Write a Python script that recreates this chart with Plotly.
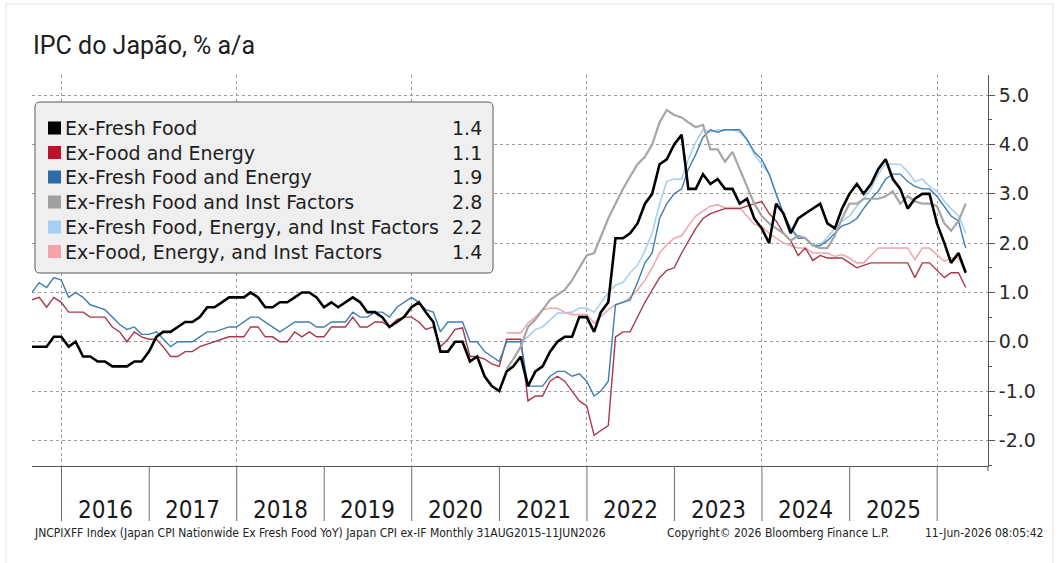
import pandas as pd
import plotly.graph_objects as go

# Monthly observations, Aug 2015 - Apr 2026 (% y/y)
dates = pd.date_range("2015-08-31", periods=129, freq="ME")

ex_fresh_food = [
    -0.1, -0.1, -0.1, 0.1, 0.1,
    -0.1, 0.0, -0.3, -0.3, -0.4, -0.4, -0.5, -0.5, -0.5, -0.4, -0.4, -0.2,
    0.1, 0.2, 0.2, 0.3, 0.4, 0.4, 0.5, 0.7, 0.7, 0.8, 0.9, 0.9,
    0.9, 1.0, 0.9, 0.7, 0.7, 0.8, 0.8, 0.9, 1.0, 1.0, 0.9, 0.7,
    0.8, 0.7, 0.8, 0.9, 0.8, 0.6, 0.6, 0.5, 0.3, 0.4, 0.5, 0.7,
    0.8, 0.6, 0.4, -0.2, -0.2, 0.0, 0.0, -0.4, -0.3, -0.7, -0.9, -1.0,
    -0.6, -0.5, -0.3, -0.9, -0.6, -0.5, -0.2, 0.0, 0.1, 0.1, 0.5, 0.5,
    0.2, 0.6, 0.8, 2.1, 2.1, 2.2, 2.4, 2.8, 3.0, 3.6, 3.7, 4.0,
    4.2, 3.1, 3.1, 3.4, 3.2, 3.3, 3.1, 3.1, 2.8, 2.9, 2.5, 2.3,
    2.0, 2.8, 2.6, 2.2, 2.5, 2.6, 2.7, 2.8, 2.4, 2.3, 2.7, 3.0,
    3.2, 3.0, 3.2, 3.5, 3.7, 3.3, 3.1, 2.7, 2.9, 3.0, 3.0, 2.4,
    2.0, 1.6, 1.8, 1.4,
]

ex_food_energy = [
    0.85, 0.9, 0.7, 0.9, 0.8,
    0.6, 0.6, 0.6, 0.5, 0.5, 0.5, 0.3, 0.2, 0.0, 0.2, 0.1, 0.05,
    0.05, -0.1, -0.3, -0.3, -0.2, -0.2, -0.1, -0.05, 0.0, 0.05, 0.1, 0.1,
    0.1, 0.3, 0.3, 0.1, 0.1, 0.0, 0.0, 0.2, 0.1, 0.2, 0.1, 0.1,
    0.3, 0.3, 0.3, 0.5, 0.3, 0.3, 0.4, 0.4, 0.3, 0.45, 0.5, 0.5,
    0.4, 0.25, 0.3, -0.1, 0.05, 0.25, 0.28, -0.3, -0.3, -0.35, -0.45, -0.5,
    0.05, 0.05, 0.05, -1.2, -1.1, -1.1, -0.8, -0.7, -0.8, -1.0, -1.2, -1.3,
    -1.9, -1.8, -1.7, 0.1, 0.2, 0.2, 0.5, 0.8, 1.05, 1.3, 1.45, 1.5,
    1.8, 2.05, 2.3, 2.5, 2.6, 2.65, 2.7, 2.7, 2.7, 2.75, 2.8, 2.85,
    2.6, 2.45, 2.2, 2.05, 1.75, 1.9, 1.65, 1.75, 1.7, 1.7, 1.7, 1.6,
    1.5, 1.55, 1.6, 1.6, 1.6, 1.6, 1.6, 1.6, 1.3, 1.6, 1.6, 1.45,
    1.3, 1.4, 1.4, 1.1,
]

ex_fresh_food_energy = [
    1.0, 1.2, 1.1, 1.3, 1.25,
    0.9, 1.0, 0.9, 0.75, 0.7, 0.65, 0.5, 0.35, 0.25, 0.3, 0.15, 0.15,
    0.2, 0.05, -0.1, 0.0, 0.0, 0.0, 0.1, 0.2, 0.2, 0.25, 0.3, 0.3,
    0.4, 0.5, 0.5, 0.4, 0.3, 0.2, 0.3, 0.4, 0.4, 0.4, 0.3, 0.3,
    0.4, 0.4, 0.4, 0.6, 0.5, 0.5, 0.6, 0.6, 0.5, 0.7, 0.8, 0.9,
    0.8, 0.65, 0.6, 0.2, 0.4, 0.4, 0.4, 0.0, 0.0, -0.2, -0.3, -0.4,
    0.0, 0.0, 0.0, -0.9, -0.9, -0.9, -0.7, -0.6, -0.6, -0.7, -0.65, -0.8,
    -1.1, -1.0, -0.8, 0.75, 0.8, 0.85, 1.2, 1.6, 1.8, 2.5, 2.8, 3.0,
    3.1, 3.5, 3.8, 4.15, 4.3, 4.25, 4.3, 4.3, 4.3, 4.1, 3.85, 3.7,
    3.4, 3.0, 2.6, 2.3, 2.1, 2.1, 1.95, 1.95, 2.05, 2.2, 2.35, 2.4,
    2.5, 2.7, 2.9, 3.05, 3.3, 3.4, 3.4, 3.25, 3.15, 3.1, 3.1, 2.95,
    2.75, 2.55, 2.45, 1.9,
]

# Series excluding institutional factors start in Jan 2021
pre_2021 = [None] * 65

ex_fresh_food_inst = pre_2021 + [
    -0.55, -0.35, -0.1, 0.3, 0.45, 0.65, 0.85, 0.95, 1.05, 1.25, 1.5, 1.75,
    1.8, 2.15, 2.5, 2.8, 3.1, 3.35, 3.6, 3.75, 4.0, 4.45, 4.7, 4.6,
    4.55, 4.45, 4.35, 4.4, 3.9, 3.9, 3.65, 3.85, 3.5, 3.15, 2.8, 2.55,
    2.4, 2.3, 2.2, 2.05, 2.15, 2.1, 1.95, 1.9, 1.9, 2.15, 2.5, 2.8,
    2.8, 2.9, 2.9, 2.9, 2.95, 3.05, 2.8, 2.95, 2.85, 2.8, 2.8, 2.75,
    2.4, 2.25, 2.45, 2.8,
]

ex_fresh_food_energy_inst = pre_2021 + [
    0.0, 0.0, 0.0, 0.1, 0.25, 0.3, 0.45, 0.58, 0.58, 0.6, 0.68, 0.68,
    0.6, 0.8, 1.0, 1.15, 1.2, 1.4, 1.55, 1.85, 2.2, 2.8, 3.25, 3.3,
    3.3, 3.7, 4.05, 4.3, 4.25, 4.3, 4.3, 4.3, 4.25, 4.1, 3.8, 3.6,
    3.4, 3.0, 2.55, 2.3, 2.15, 2.1, 1.97, 1.95, 2.13, 2.3, 2.45, 2.55,
    2.75, 2.9, 3.1, 3.4, 3.6, 3.6, 3.6, 3.45, 3.25, 3.3, 3.15, 3.05,
    2.85, 2.7, 2.55, 2.2,
]

ex_food_energy_inst = pre_2021 + [
    0.18, 0.18, 0.18, 0.38, 0.5, 0.65, 0.68, 0.68, 0.6, 0.55, 0.55, 0.55,
    0.38, 0.5, 0.65, 0.75, 0.8, 0.9, 1.05, 1.25, 1.5, 1.8, 1.97, 2.1,
    2.15, 2.35, 2.55, 2.65, 2.75, 2.78, 2.72, 2.72, 2.72, 2.55, 2.38, 2.34,
    2.2, 2.1, 2.0, 1.95, 1.9, 1.9, 1.8, 1.8, 1.8, 1.73, 1.77, 1.7,
    1.6, 1.6, 1.75, 1.9, 1.9, 1.9, 1.9, 1.9, 1.67, 1.9, 1.9, 1.77,
    1.63, 1.7, 1.7, 1.4,
]

series_names = [
    "Ex-Fresh Food",
    "Ex-Food and Energy",
    "Ex-Fresh Food and Energy",
    "Ex-Fresh Food and Inst Factors",
    "Ex-Fresh Food, Energy, and Inst Factors",
    "Ex-Food, Energy, and Inst Factors",
]
series_values = [
    ex_fresh_food,
    ex_food_energy,
    ex_fresh_food_energy,
    ex_fresh_food_inst,
    ex_fresh_food_energy_inst,
    ex_food_energy_inst,
]
line_colors = ["#000000", "#a8394a", "#3f7db3", "#a6a6a6", "#abd2ef", "#efa9b0"]
line_widths = [2.6, 1.4, 1.4, 2.2, 1.7, 1.6]
swatch_colors = ["#000000", "#c0102a", "#2c6aa8", "#a0a0a0", "#a5d0f3", "#f4a3ab"]

years = list(range(2016, 2026))
y_ticks = [-2, -1, 0, 1, 2, 3, 4, 5]

title_text = "IPC do Japão, % a/a"
footer_left = ("JNCPIXFF Index (Japan CPI Nationwide Ex Fresh Food YoY) "
               "Japan CPI ex-IF Monthly 31AUG2015-11JUN2026")
footer_mid = "Copyright\u00a9 2026 Bloomberg Finance L.P."
footer_right = "11-Jun-2026 08:05:42"

# Page geometry (pixels)
W, H = 1059, 563
L, R, T, B = 32, 988, 75, 466


def px(x):
    return (x - L) / (R - L)


def py(y):
    return (B - y) / (B - T)


fig = go.Figure()

# draw lighter series first so the black line sits on top
draw_order = [4, 5, 1, 2, 3, 0]
for i in draw_order:
    fig.add_trace(go.Scatter(
        x=dates, y=series_values[i], mode="lines", name=series_names[i],
        line=dict(color=line_colors[i], width=line_widths[i]),
        connectgaps=False, showlegend=False, hoverinfo="skip",
    ))

shapes = []
annotations = []

# outer card frame
shapes.append(dict(type="rect", xref="paper", yref="paper",
                   x0=px(6), x1=px(1053), y0=py(4), y1=py(575),
                   line=dict(color="#e2e2e2", width=1), layer="below"))

# year separators below the time axis
for yr in years + [2026]:
    shapes.append(dict(type="line", xref="x", yref="paper",
                       x0=f"{yr}-01-01", x1=f"{yr}-01-01",
                       y0=0, y1=py(521),
                       line=dict(color="#6f6f6f", width=1)))

# small hook at the right end of the time axis
shapes.append(dict(type="line", xref="paper", yref="paper",
                   x0=1, x1=1, y0=0, y1=py(471),
                   line=dict(color="#555555", width=1)))

for yr in years:
    annotations.append(dict(
        x=f"{yr}-07-02", y=py(510), xref="x", yref="paper",
        text=str(yr), showarrow=False, xanchor="center", yanchor="middle",
        font=dict(family="Liberation Sans Narrow, DejaVu Sans Condensed, sans-serif",
                  size=24, color="#1a1a1a"),
    ))

# legend box with rounded corners
bx0, bx1, by0, by1, rad = 35, 493, 102, 273, 5
path = (
    f"M {px(bx0 + rad)},{py(by0)} L {px(bx1 - rad)},{py(by0)} "
    f"Q {px(bx1)},{py(by0)} {px(bx1)},{py(by0 + rad)} "
    f"L {px(bx1)},{py(by1 - rad)} "
    f"Q {px(bx1)},{py(by1)} {px(bx1 - rad)},{py(by1)} "
    f"L {px(bx0 + rad)},{py(by1)} "
    f"Q {px(bx0)},{py(by1)} {px(bx0)},{py(by1 - rad)} "
    f"L {px(bx0)},{py(by0 + rad)} "
    f"Q {px(bx0)},{py(by0)} {px(bx0 + rad)},{py(by0)} Z"
)
shapes.append(dict(type="path", xref="paper", yref="paper", path=path,
                   fillcolor="#efefef", line=dict(color="#5a5a5a", width=1),
                   layer="above"))

legend_font = dict(family="DejaVu Sans, Verdana, sans-serif", size=19, color="#1e1e1e")
row_y = [128, 152.5, 177, 202, 227, 251.5]
for i, name in enumerate(series_names):
    yc = row_y[i]
    shapes.append(dict(type="rect", xref="paper", yref="paper",
                       x0=px(48), x1=px(61), y0=py(yc + 6.5), y1=py(yc - 6.5),
                       fillcolor=swatch_colors[i], line=dict(width=0),
                       layer="above"))
    annotations.append(dict(
        x=px(63), y=py(yc), xref="paper", yref="paper", text=name,
        showarrow=False, xanchor="left", yanchor="middle", font=legend_font,
    ))
    last = series_values[i][-1]
    annotations.append(dict(
        x=px(484), y=py(yc), xref="paper", yref="paper", text=f"{last:.1f}",
        showarrow=False, xanchor="right", yanchor="middle", font=legend_font,
    ))

# title
annotations.append(dict(
    x=px(31), y=py(46), xref="paper", yref="paper", text=title_text,
    showarrow=False, xanchor="left", yanchor="middle",
    font=dict(family="Roboto, Noto Sans, sans-serif", size=25, color="#202020"),
))

# footer
footer_font = dict(family="Liberation Sans Narrow, DejaVu Sans Condensed, sans-serif",
                   size=12, color="#222222")
annotations.append(dict(x=px(32), y=py(533), xref="paper", yref="paper",
                        text=footer_left, showarrow=False, xanchor="left",
                        yanchor="middle", font=footer_font))
annotations.append(dict(x=px(665), y=py(533), xref="paper", yref="paper",
                        text=footer_mid, showarrow=False, xanchor="left",
                        yanchor="middle", font=footer_font))
annotations.append(dict(x=px(1045), y=py(533), xref="paper", yref="paper",
                        text=footer_right, showarrow=False, xanchor="right",
                        yanchor="middle", font=footer_font))

fig.update_layout(
    width=W, height=H,
    margin=dict(l=L, r=W - R, t=T, b=H - B),
    paper_bgcolor="#ffffff", plot_bgcolor="#ffffff",
    showlegend=False,
    shapes=shapes, annotations=annotations,
    xaxis=dict(
        type="date", range=["2015-08-31", "2026-08-01"],
        tickvals=[f"{y}-01-01" for y in range(2016, 2027, 2)],
        showticklabels=False, ticks="",
        showgrid=True, gridcolor="#9c9c9c", griddash="dot", gridwidth=1,
        showline=True, linecolor="#555555", linewidth=1, zeroline=False,
    ),
    yaxis=dict(
        side="right", range=[-2.52, 5.41],
        tickvals=y_ticks, ticktext=[f"{v:.1f}" for v in y_ticks],
        ticks="outside", ticklen=6, tickcolor="#555555",
        minor=dict(tickvals=[v + 0.5 for v in range(-3, 6)], ticks="outside",
                   ticklen=3, tickcolor="#555555", showgrid=False),
        showgrid=True, gridcolor="#9c9c9c", griddash="dot", gridwidth=1,
        showline=True, linecolor="#555555", linewidth=1, zeroline=False,
        tickfont=dict(family="DejaVu Sans, Verdana, sans-serif", size=19, color="#2a2a2a"),
    ),
)

fig.write_html("out.html")
